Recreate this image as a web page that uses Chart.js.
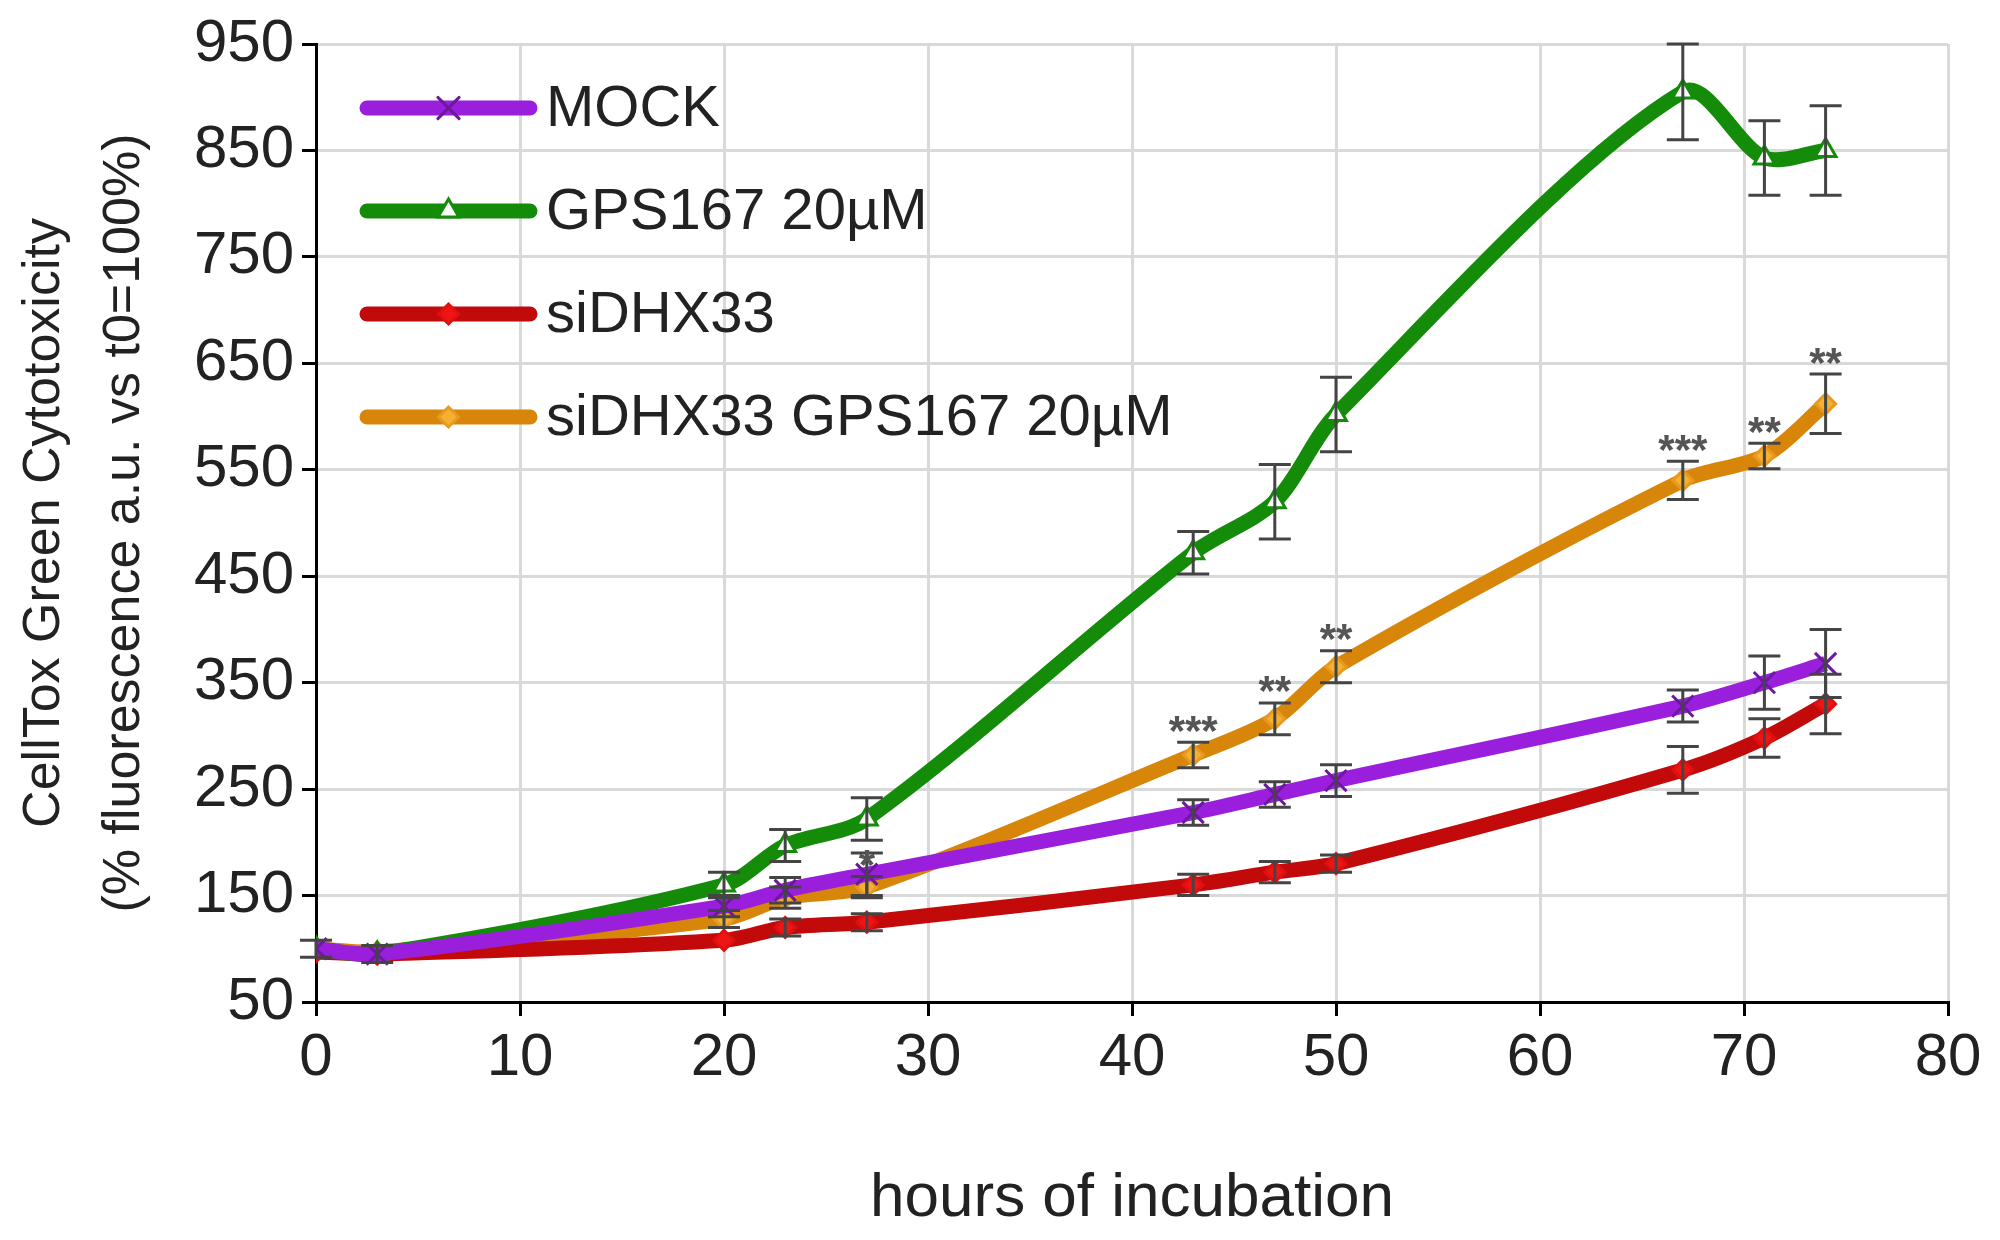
<!DOCTYPE html>
<html><head><meta charset="utf-8">
<script src="https://cdn.jsdelivr.net/npm/chart.js@4/dist/chart.umd.min.js"></script>
<style>html,body{margin:0;background:#fff}#w{width:2000px;height:1240px}</style>
</head><body><div id="w"><canvas id="c"></canvas></div>
<script>
const hours = [0,3,20,23,27,43,47,50,67,71,74];
const mock = [100,95,140,155,170,228,245,258,328,350,368];
const mockErr = [8,8,10,12,20,12,12,15,15,25,32];
const gps = [100,95,160,197,222,472,520,602,905,843,850];
const gpsErr = [6,6,12,15,20,20,35,35,45,35,42];
const si = [97,95,108,120,125,160,172,180,268,298,330];
const siErr = [5,5,5,8,8,10,10,8,22,18,28];
const siGps = [100,97,128,148,158,282,316,365,540,563,612];
const siGpsErr = [5,5,8,10,10,12,15,15,18,12,28];
const starLabels = ['','','','','*','***','**','**','***','**','**'];
const yTicks = [50,150,250,350,450,550,650,750,850,950];
const xTicks = [0,10,20,30,40,50,60,70,80];
const names = ['MOCK','GPS167 20µM','siDHX33','siDHX33 GPS167 20µM'];

const FONT = '"Liberation Sans Narrow","Liberation Sans",Arial,sans-serif';
function pts(v){return hours.map((h,i)=>({x:h,y:v[i]}));}
const series = [
  {label:names[0],data:pts(mock),err:mockErr,borderColor:'#9a1fdc',pointStyle:'crossRot',pointBorderColor:'#6a1a9a',pointBackgroundColor:'#6a1a9a',pointRadius:15},
  {label:names[1],data:pts(gps),err:gpsErr,borderColor:'#148c0a',pointStyle:'triangle',pointBorderColor:'#148c0a',pointBackgroundColor:'#ffffff',pointRadius:12},
  {label:names[2],data:pts(si),err:siErr,borderColor:'#c30a0a',pointStyle:'rectRot',pointBorderColor:'#e01010',pointBackgroundColor:'#f01515',pointRadius:10},
  {label:names[3],data:pts(siGps),err:siGpsErr,borderColor:'#d8860a',pointStyle:'rectRot',pointBorderColor:'#e89a20',pointBackgroundColor:'#f5b030',pointRadius:10}
];
const datasets = series.map(s=>Object.assign({borderWidth:15,tension:0.3,pointBorderWidth:3,fill:false},s));

const errPlugin = {id:'err',afterDatasetsDraw(ch){
  const c=ch.ctx,xs=ch.scales.x,ys=ch.scales.y;
  c.save();c.strokeStyle='#444';c.lineWidth=3;
  ch.data.datasets.forEach(ds=>{ds.data.forEach((p,i)=>{
    const e=ds.err[i];if(e<7)return;
    const x=xs.getPixelForValue(p.x),y1=ys.getPixelForValue(p.y-e),y2=ys.getPixelForValue(p.y+e);
    c.beginPath();c.moveTo(x,y1);c.lineTo(x,y2);c.moveTo(x-16,y1);c.lineTo(x+16,y1);c.moveTo(x-16,y2);c.lineTo(x+16,y2);c.stroke();
  });});
  c.fillStyle='#555';c.font='bold 42px '+FONT;c.textAlign='center';c.textBaseline='bottom';
  hours.forEach((h,i)=>{if(!starLabels[i])return;
    const x=xs.getPixelForValue(h),y=ys.getPixelForValue(siGps[i]+siGpsErr[i]);
    c.fillText(starLabels[i],x,y+12);});
  c.textAlign='left';c.textBaseline='middle';c.font='58px '+FONT;
  datasets.forEach((ds,k)=>{
    const y=108+k*103,x0=367,x1=530;
    c.strokeStyle=ds.borderColor;c.lineWidth=15;c.lineCap='round';
    c.beginPath();c.moveTo(x0,y);c.lineTo(x1,y);c.stroke();
    c.fillStyle=ds.pointBackgroundColor;c.strokeStyle=ds.pointBorderColor;c.lineWidth=3;
    Chart.helpers.drawPoint(c,{pointStyle:ds.pointStyle,radius:ds.pointRadius,rotation:0,borderWidth:3},(x0+x1)/2,y);
    c.fillStyle='#222';c.fillText(ds.label,x1+16,y+2);
  });
  c.restore();
}};

new Chart(document.getElementById('c'),{
  type:'line',data:{datasets},
  options:{responsive:true,maintainAspectRatio:false,animation:false,
    layout:{padding:{top:36,right:52}},
    plugins:{legend:{display:false},tooltip:{enabled:false}},
    scales:{
      x:{type:'linear',min:0,max:80,
        afterBuildTicks(s){s.ticks=xTicks.map(v=>({value:v}));},
        afterFit(s){s.height=238;},
        grid:{color:'#d9d9d9',lineWidth:3,tickLength:14,tickColor:'#000'},
        border:{color:'#000',width:3},
        ticks:{color:'#222',font:{size:60,family:FONT},padding:6},
        title:{display:true,text:'hours of incubation',color:'#222',font:{size:62,family:FONT},padding:{top:36}}},
      y:{min:50,max:950,
        afterBuildTicks(s){s.ticks=yTicks.map(v=>({value:v}));},
        afterFit(s){s.width=316;},
        grid:{color:'#d9d9d9',lineWidth:3,tickLength:14,tickColor:'#000'},
        border:{color:'#000',width:3},
        ticks:{color:'#222',font:{size:60,family:FONT},padding:8},
        title:{display:true,text:['CellTox Green Cytotoxicity','(% fluorescence a.u. vs t0=100%)'],color:'#222',font:{size:52,family:FONT,lineHeight:1.55},padding:{bottom:0}}}
    }},
  plugins:[errPlugin]
});
</script></body></html>
